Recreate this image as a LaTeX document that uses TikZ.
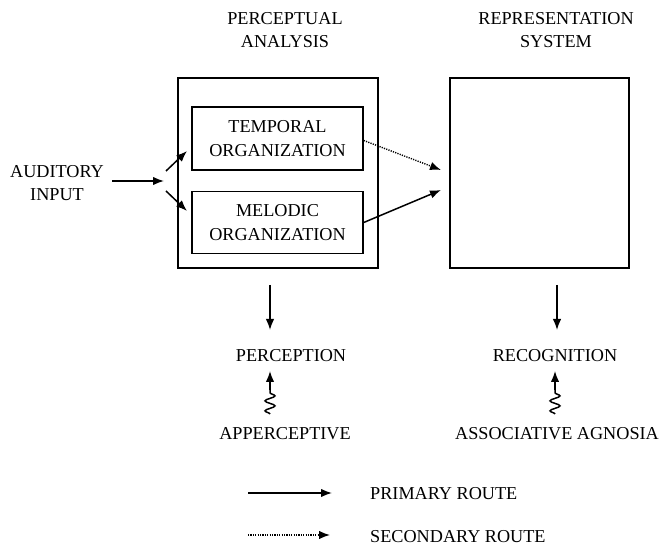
\documentclass[tikz,border=0pt]{standalone}
\usepackage{fontspec}
\setmainfont{Liberation Serif}
\usetikzlibrary{arrows.meta,decorations.pathmorphing}
\begin{document}
\begin{tikzpicture}[x=1pt,y=-1pt,
  lbl/.style={font=\fontsize{18.2}{23.5}\selectfont,align=center,inner sep=0pt},
  box/.style={draw,line width=1.5pt,inner sep=0pt},
  arr/.style={line width=1.5pt,-{Latex[length=11pt,width=8.5pt]}},
  dotarr/.style={line width=1.4pt,dash pattern=on 1.2pt off 1.2pt,-{Latex[length=11pt,width=8.5pt]}},
  squig/.style={line width=1.5pt,decorate,decoration={snake,segment length=10pt,amplitude=5pt}}]
\useasboundingbox (0,0) rectangle (665,548);
% headers
\node[lbl] (hpa) at (285,30) {PERCEPTUAL\\ANALYSIS};
\node[lbl] (hrs) at (556,30) {REPRESENTATION\\SYSTEM};
% boxes
\node[box,minimum width=200pt,minimum height=190pt] (pa) at (278,173) {};
\node[box,minimum width=171pt,minimum height=63pt,lbl] (temp) at (277.5,138.5) {TEMPORAL\\ORGANIZATION};
\node[box,minimum width=171pt,minimum height=62pt,lbl] (mel) at (277.5,222.5) {MELODIC\\ORGANIZATION};
\node[box,minimum width=179pt,minimum height=190pt] (rs) at (539.5,173) {};
% input
\node[lbl] (in) at (57,183) {AUDITORY\\INPUT};
\coordinate (inend) at (164,181);
\draw[arr] (112,181) -- (inend);
\coordinate (t1) at (166,171);
\coordinate (t2) at (187,151);
\coordinate (m1) at (166,191);
\coordinate (m2) at (187,211);
\draw[arr] (t1) -- (t2);
\draw[arr] (m1) -- (m2);
% to representation system
\coordinate (rt) at (441,170);
\coordinate (rm) at (441,190);
\draw[dotarr] (temp.east) ++(0,2) -- (rt);
\draw[arr] (mel.east) -- (rm);
% outputs
\node[lbl] (perc) at (291,356) {PERCEPTION};
\node[lbl] (rec) at (555,356) {RECOGNITION};
\draw[arr] (270,285) -- (270,330);
\draw[arr] (557,285) -- (557,330);
% agnosias
\node[lbl] (app) at (285,434) {APPERCEPTIVE};
\node[lbl] (ass) at (557,434) {ASSOCIATIVE AGNOSIA};
\draw[squig] (270,414) -- (270,389);
\draw[arr] (270,390) -- (270,371);
\draw[squig] (555,414) -- (555,389);
\draw[arr] (555,390) -- (555,371);
% legend
\draw[arr] (248,493) -- (332,493);
\node[lbl,anchor=west] (prim) at (370,494) {PRIMARY ROUTE};
\draw[dotarr] (248,535) -- (330,535);
\node[lbl,anchor=west] (sec) at (370,537) {SECONDARY ROUTE};
\end{tikzpicture}
\end{document}
